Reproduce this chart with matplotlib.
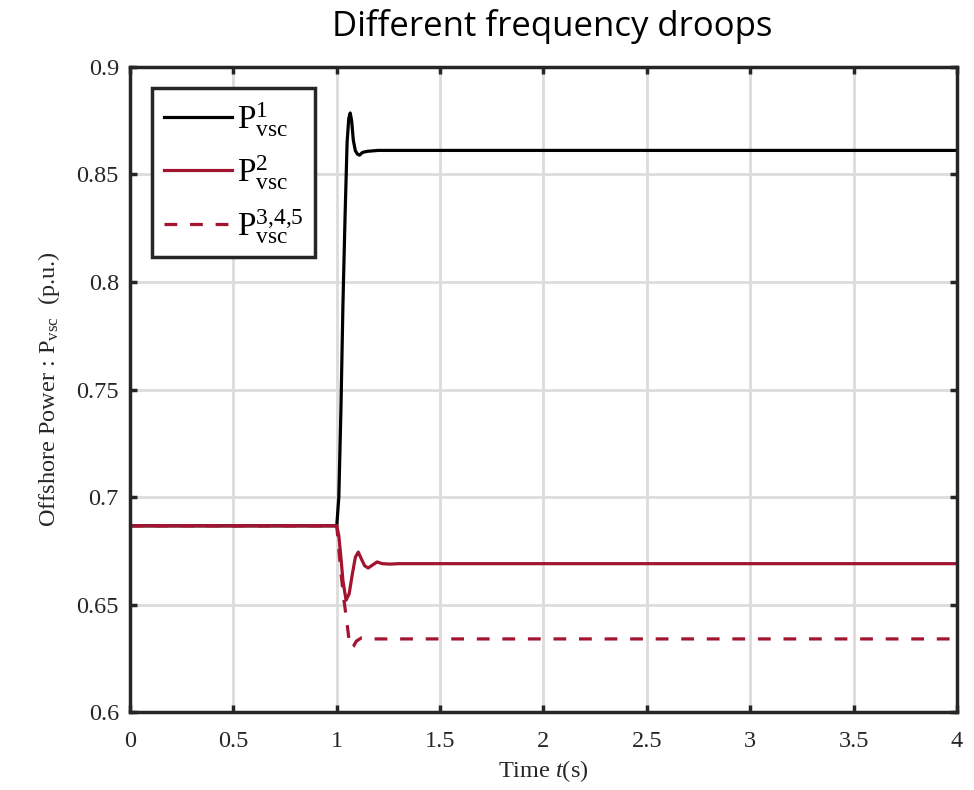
import numpy as np
import matplotlib.pyplot as plt

plt.rcParams['font.family'] = 'Liberation Serif'
plt.rcParams['mathtext.fontset'] = 'custom'
plt.rcParams['mathtext.rm'] = 'Liberation Serif'
plt.rcParams['mathtext.it'] = 'Liberation Serif:italic'

# Datos
t1 = [0, 1.0, 1.01, 1.02, 1.03, 1.04, 1.05, 1.058, 1.065, 1.072, 1.08, 1.09, 1.1, 1.11, 1.125, 1.15, 1.2, 1.3, 4.0]
p1 = [0.6866, 0.6866, 0.70, 0.74, 0.79, 0.83, 0.865, 0.876, 0.8786, 0.875, 0.866, 0.861, 0.8595, 0.859, 0.8603, 0.8608, 0.8612, 0.8612, 0.8612]

t2 = [0, 1.0, 1.01, 1.02, 1.03, 1.045, 1.06, 1.075, 1.09, 1.104, 1.12, 1.135, 1.152, 1.175, 1.195, 1.22, 1.26, 1.3, 4.0]
p2 = [0.6866, 0.6866, 0.682, 0.672, 0.661, 0.652, 0.655, 0.664, 0.672, 0.6744, 0.671, 0.668, 0.667, 0.6685, 0.6698, 0.6690, 0.6688, 0.669, 0.669]

t3 = [0, 1.0, 1.02, 1.035, 1.05, 1.06, 1.07, 1.08, 1.095, 1.12, 1.16, 1.2, 4.0]
p3 = [0.6866, 0.6866, 0.665, 0.652, 0.641, 0.633, 0.6298, 0.6305, 0.633, 0.6345, 0.634, 0.634, 0.634]

rojo = '#A2142F'
gris = '#262626'

fig = plt.figure(figsize=(9.74, 7.9), dpi=100)
ax = fig.add_axes([0.1335, 0.0987, 0.849, 0.8165])

ax.plot(t1, p1, '-', color='black', lw=2.3, label=r'$\mathrm{P}^{1}_{\mathrm{vsc}}$')
ax.plot(t2, p2, '-', color=rojo, lw=2.3, label=r'$\mathrm{P}^{2}_{\mathrm{vsc}}$')
ax.plot(t3, p3, '--', color=rojo, lw=2.3, dashes=(4, 4), label=r'$\mathrm{P}^{3{,}4{,}5}_{\mathrm{vsc}}$')

ax.set_xlim(0, 4)
ax.set_ylim(0.6, 0.9)
ax.set_xticks(np.arange(0, 4.01, 0.5))
ax.set_xticklabels(['0', '0.5', '1', '1.5', '2', '2.5', '3', '3.5', '4'])
ax.set_yticks(np.arange(0.6, 0.901, 0.05))
ax.set_yticklabels(['0.6', '0.65', '0.7', '0.75', '0.8', '0.85', '0.9'])
ax.tick_params(direction='in', length=5, width=2.5, labelsize=17.5, colors=gris,
               top=True, right=True)
ax.tick_params(axis='x', pad=14)
ax.tick_params(axis='y', pad=8)
for s in ax.spines.values():
    s.set_linewidth(2.5)
    s.set_color(gris)
ax.grid(True, color='#DCDCDC', lw=2)
ax.set_axisbelow(True)

ax.set_xlabel(r'Time $\mathit{t}$(s)', fontsize=17.5, color=gris, labelpad=4)
ax.set_ylabel(r'Offshore Power : $\mathrm{P}_{\mathrm{vsc}}$  (p.u.)', fontsize=17.5, color=gris, labelpad=10)
fig.text(0.567, 0.966, 'Different frequency droops', fontsize=25, family='Open Sans',
         ha='center', va='center')

leg = ax.legend(loc='upper left', bbox_to_anchor=(0.0266, 0.967), borderaxespad=0,
                fontsize=24, handlelength=2.05, handletextpad=0.15, labelspacing=0.45,
                fancybox=False, framealpha=1, borderpad=0.35)
leg.get_frame().set_edgecolor(gris)
leg.get_frame().set_linewidth(2.5)

plt.savefig('out.png', dpi=100)
